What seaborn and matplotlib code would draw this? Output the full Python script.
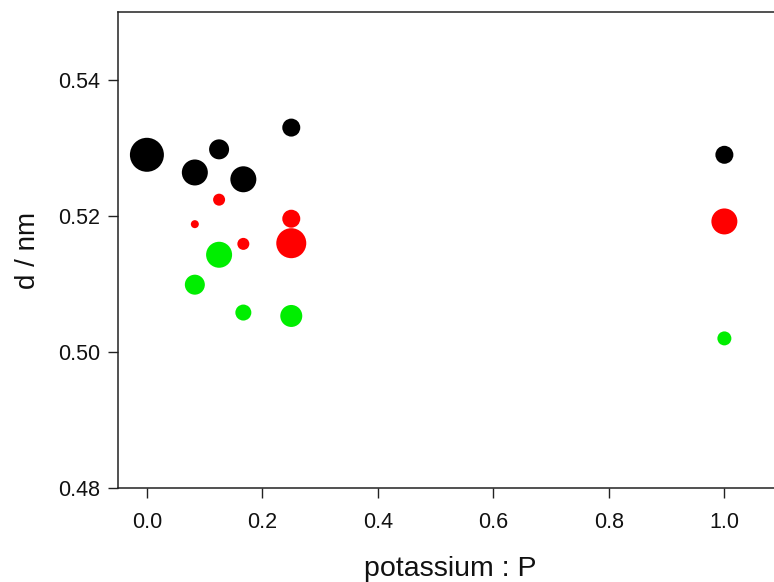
import numpy as np
import pandas as pd
import matplotlib
matplotlib.use("Agg")
import matplotlib.pyplot as plt
import seaborn as sns

# potassium fraction, d spacing and bubble radius (px) for each series
black_x = [0.0, 0.083, 0.125, 0.167, 0.25, 1.0]
black_d = [0.5290, 0.5264, 0.5298, 0.5254, 0.5330, 0.5290]
black_r = [17, 13, 10, 13, 9, 9]

red_x = [0.083, 0.125, 0.167, 0.25, 0.25, 1.0]
red_d = [0.5188, 0.5224, 0.5159, 0.5196, 0.5160, 0.5192]
red_r = [4, 6, 6, 9, 15, 13]

green_x = [0.083, 0.125, 0.167, 0.25, 1.0]
green_d = [0.5099, 0.5143, 0.5058, 0.5053, 0.5020]
green_r = [10, 13, 8, 11, 7]

frames = []
for name, xs, ds, rs in [("black", black_x, black_d, black_r),
                         ("red", red_x, red_d, red_r),
                         ("green", green_x, green_d, green_r)]:
    frames.append(pd.DataFrame({"P": xs, "d": ds, "r": rs, "series": name}))
df = pd.concat(frames, ignore_index=True)
# marker area in points^2 from pixel radius at 100 dpi
df["area"] = (2 * df["r"] * 0.72) ** 2

sns.set_style("ticks")
plt.rcParams['font.family'] = ['Liberation Sans', 'DejaVu Sans']

fig = plt.figure(figsize=(7.74, 5.82), dpi=100)
ax = fig.add_axes([0.1525, 0.1615, 0.858, 0.8179])

amin, amax = df["area"].min(), df["area"].max()
sns.scatterplot(data=df, x="P", y="d", hue="series", size="area",
                palette={"black": "black", "red": "#ff0000", "green": "#00ee00"},
                sizes=(amin, amax), size_norm=(amin, amax),
                linewidth=0, legend=False, ax=ax)

ax.set_xlim(-0.05, 1.1)
ax.set_ylim(0.48, 0.55)
ax.set_xticks([0.0, 0.2, 0.4, 0.6, 0.8, 1.0])
ax.set_yticks([0.48, 0.50, 0.52, 0.54])
ax.xaxis.set_major_formatter(matplotlib.ticker.FormatStrFormatter("%.1f"))
ax.yaxis.set_major_formatter(matplotlib.ticker.FormatStrFormatter("%.2f"))
ax.tick_params(direction="out", length=7, width=1.0, labelsize=15.5,
               color="#222222", labelcolor="#111111")
ax.tick_params(axis="x", pad=10)
ax.tick_params(axis="y", pad=6)
for sp in ax.spines.values():
    sp.set_linewidth(1.1)
    sp.set_color("#222222")
ax.set_xlabel("potassium : P", fontsize=20.5, labelpad=17, color="#111111")
ax.set_ylabel("d / nm", fontsize=20, labelpad=12, color="#111111")

fig.savefig("out.png", dpi=100)
